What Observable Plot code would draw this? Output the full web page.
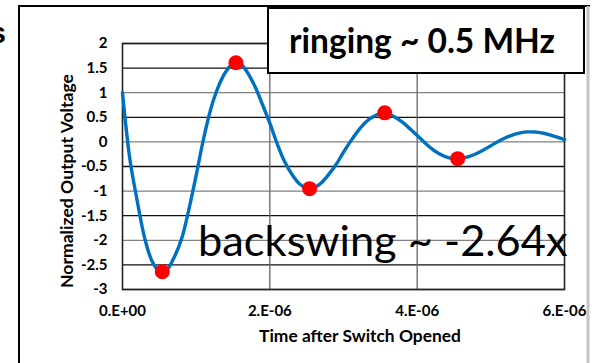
<!DOCTYPE html>
<html><head><meta charset="utf-8">
<script src="https://cdn.jsdelivr.net/npm/d3@7"></script>
<script src="https://cdn.jsdelivr.net/npm/@observablehq/plot@0.6"></script>
<style>
html,body{margin:0;padding:0;background:#fff;}
#chart{position:relative;width:596px;height:363px;overflow:hidden;}
</style></head><body><div id="chart"></div>
<script>
// Waveform (time in microseconds, normalized voltage)
const timeUs = [0,0.1,0.2,0.3,0.4,0.5,0.6,0.7,0.8,0.9,1.0,1.1,1.2,1.3,1.4,1.5,1.6,1.7,1.8,1.9,2.0,2.1,2.2,2.3,2.4,2.5,2.6,2.7,2.8,2.9,3.0,3.1,3.2,3.3,3.4,3.5,3.6,3.7,3.8,3.9,4.0,4.1,4.2,4.3,4.4,4.5,4.6,4.7,4.8,4.9,5.0,5.1,5.2,5.3,5.4,5.5,5.6,5.7,5.8,5.9,6.0];
const voltage = [1.00,-0.35,-1.20,-1.95,-2.42,-2.63,-2.60,-2.35,-1.98,-1.38,-0.68,0.06,0.68,1.12,1.42,1.59,1.59,1.40,1.12,0.76,0.38,-0.04,-0.40,-0.66,-0.85,-0.94,-0.93,-0.83,-0.66,-0.46,-0.21,0.02,0.23,0.40,0.51,0.58,0.575,0.50,0.40,0.27,0.13,-0.01,-0.14,-0.24,-0.31,-0.34,-0.335,-0.30,-0.24,-0.164,-0.077,0.008,0.083,0.143,0.184,0.203,0.201,0.180,0.144,0.098,0.046];
const peakTimeUs = [0.54,1.54,2.54,3.56,4.55];
const peakVoltage = [-2.64,1.61,-0.95,0.59,-0.34];
const xTickValues = [0,2,4,6];
const xTickLabels = ["0.E+00","2.E-06","4.E-06","6.E-06"];
const yTickValues = [2,1.5,1,0.5,0,-0.5,-1,-1.5,-2,-2.5,-3];
const yTickLabels = ["2","1.5","1","0.5","0","-0.5","-1","-1.5","-2","-2.5","-3"];
const xTitle = "Time after Switch Opened";
const yTitle = "Normalized Output Voltage";
const boxLabel = "ringing ~ 0.5 MHz";
const noteLabel = "backswing ~ -2.64x";
const cutLetter = "s";

const curve = timeUs.map((t,i)=>({t, v: voltage[i]}));
const peaks = peakTimeUs.map((t,i)=>({t, v: peakVoltage[i]}));
const halfGrid = yTickValues.filter(v => Math.abs(v % 1) === 0.5);
const wholeGrid = yTickValues.filter(v => v % 1 === 0);

const W = 596, H = 363;
const svg = Plot.plot({
  width: W, height: H,
  marginLeft: 122, marginRight: 32, marginTop: 43, marginBottom: 74,
  style: {fontFamily: "Lato, sans-serif", background: "#fff", color: "#000"},
  x: {domain: [0, 6]},
  y: {domain: [-3, 2]},
  marks: [
    Plot.ruleY(wholeGrid, {stroke: "#808080", strokeWidth: 1.3}),
    Plot.ruleY(halfGrid, {stroke: "#111", strokeWidth: 1.3}),
    Plot.ruleX(xTickValues.slice(1, -1), {stroke: "#666", strokeWidth: 1.3}),
    Plot.frame({stroke: "#222", strokeWidth: 1.6}),
    Plot.axisX(xTickValues, {tickSize: 0, tickPadding: 16, fontSize: 15, fontWeight: "bold", label: null,
      tickFormat: d => xTickLabels[xTickValues.indexOf(d)]}),
    Plot.axisY(yTickValues, {tickSize: 0, tickPadding: 15, fontSize: 15, fontWeight: "bold", label: null,
      tickFormat: d => yTickLabels[yTickValues.indexOf(d)]}),
    Plot.line(curve, {x: "t", y: "v", stroke: "#0070C0", strokeWidth: 3.4, curve: "catmull-rom"}),
    Plot.dot(peaks, {x: "t", y: "v", r: 7.5, fill: "#ff0000", stroke: "none"})
  ]
});
document.getElementById("chart").appendChild(svg);

const s = d3.select(svg);
// outer slide-chart frame
s.append("line").attr("x1", 19).attr("y1", 6).attr("x2", 19).attr("y2", H).attr("stroke", "#000").attr("stroke-width", 2);
s.append("line").attr("x1", 18).attr("y1", 6).attr("x2", 590).attr("y2", 6).attr("stroke", "#000").attr("stroke-width", 2);
s.append("line").attr("x1", 588).attr("y1", 6).attr("x2", 588).attr("y2", H).attr("stroke", "#c4c4c4").attr("stroke-width", 3);
// cut-off letter at the left
s.append("text").attr("x", 6).attr("y", 43).attr("text-anchor", "end")
  .attr("font-family", "Liberation Sans, Arial, sans-serif").attr("font-weight", "bold").attr("font-size", 30).text(cutLetter);
// axis titles
s.append("text").attr("x", 360).attr("y", 342).attr("text-anchor", "middle")
  .attr("font-weight", "bold").attr("font-size", 17.4).text(xTitle);
s.append("text").attr("transform", "translate(73,181) rotate(-90)").attr("text-anchor", "middle")
  .attr("font-weight", "bold").attr("font-size", 17.6).text(yTitle);
// ringing box
s.append("rect").attr("x", 268).attr("y", 8).attr("width", 316).attr("height", 65)
  .attr("fill", "#fff").attr("stroke", "#000").attr("stroke-width", 2);
s.append("text").attr("x", 422).attr("y", 53).attr("text-anchor", "middle")
  .attr("font-weight", "bold").attr("font-size", 33.5).text(boxLabel);
// backswing note
s.append("text").attr("x", 198).attr("y", 256).attr("text-anchor", "start")
  .attr("font-weight", "normal").attr("font-size", 43.4).text(noteLabel);
</script></body></html>
